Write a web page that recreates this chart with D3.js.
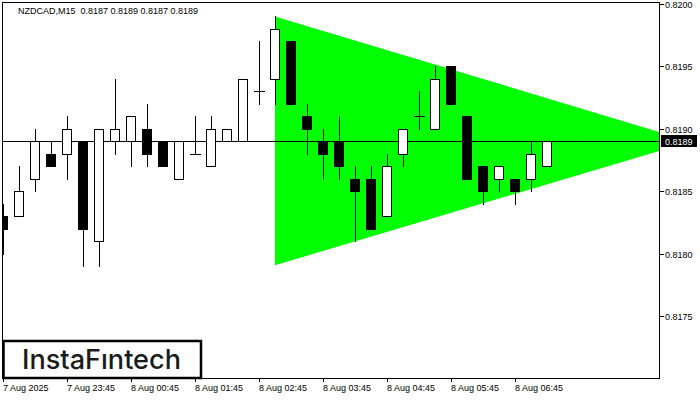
<!DOCTYPE html>
<html><head><meta charset="utf-8">
<script src="https://cdn.jsdelivr.net/npm/d3@7"></script>
<style>html,body{margin:0;padding:0;background:#fff}svg{display:block}</style>
</head><body>
<svg id="c" width="700" height="400"></svg>
<script>
const title = "NZDCAD,M15  0.8187 0.8189 0.8187 0.8189";
const opens  = [0.8183,0.8183,0.8186,0.8188,0.8188,0.8189,0.8181,0.8189,0.8189,0.8190,0.8189,0.8186,0.8188,0.8187,0.8189,0.8189,0.8193,0.8194,0.8197,0.8191,0.8189,0.8189,0.8186,0.8186,0.8183,0.8188,0.8191,0.8190,0.8195,0.8191,0.8187,0.8186,0.8186,0.8186,0.8187];
const highs  = [0.8184,0.8187,0.8190,0.8189,0.8191,0.8189,0.8190,0.8194,0.8191,0.8192,0.8189,0.8189,0.8191,0.8191,0.8190,0.8194,0.8197,0.8199,0.8197,0.8192,0.8190,0.8191,0.8187,0.8187,0.8188,0.8190,0.8193,0.8195,0.8195,0.8191,0.8187,0.8187,0.8186,0.8189,0.8189];
const lows   = [0.8180,0.8183,0.8185,0.8187,0.8186,0.8179,0.8179,0.8188,0.8187,0.8187,0.8187,0.8186,0.8188,0.8187,0.8189,0.8189,0.8192,0.8192,0.8192,0.8188,0.8186,0.8186,0.8181,0.8182,0.8183,0.8187,0.8190,0.8190,0.8192,0.8186,0.8184,0.8185,0.8184,0.8185,0.8187];
const closes = [0.8182,0.8185,0.8189,0.8187,0.8190,0.8182,0.8190,0.8190,0.8191,0.8188,0.8187,0.8189,0.8188,0.8190,0.8190,0.8194,0.8193,0.8198,0.8192,0.8190,0.8188,0.8187,0.8185,0.8182,0.8187,0.8190,0.8191,0.8194,0.8192,0.8186,0.8185,0.8187,0.8185,0.8188,0.8189];
const timeTickIdx = [0,4,8,12,16,20,24,28,32];
const timeTickLabels = ["7 Aug 2025","7 Aug 23:45","8 Aug 00:45","8 Aug 01:45","8 Aug 02:45","8 Aug 03:45","8 Aug 04:45","8 Aug 05:45","8 Aug 06:45"];
const priceTicks = [0.8175,0.8180,0.8185,0.8190,0.8195,0.8200];
const bidPrice = 0.8189;
const triangleIdx = [17,43,17];
const trianglePrice = [0.8199,0.8189,0.81791];
const logoText = "InstaF\u0131ntech";

const svg = d3.select("#c");
const L=2, R=660, T=2, B=378;
const x = d3.scaleLinear().domain([0,41]).range([3,659]);
const y = d3.scaleLinear().domain([0.8170,0.8200]).range([379,4]);
const font = "'Liberation Sans', Arial, sans-serif";

svg.append("defs").append("clipPath").attr("id","plot")
  .append("rect").attr("x",L+1).attr("y",T+1).attr("width",R-L-1).attr("height",B-T-1);

const g = svg.append("g").attr("clip-path","url(#plot)");

// triangle
g.append("polygon")
  .attr("points", triangleIdx.map((d,i)=>[x(d),y(trianglePrice[i])].join(",")).join(" "))
  .attr("fill","#00ff00").attr("stroke","none");

// bid line
g.append("line").attr("x1",L).attr("x2",R)
  .attr("y1",Math.round(y(bidPrice))+0.5).attr("y2",Math.round(y(bidPrice))+0.5)
  .attr("stroke","#000").attr("stroke-width",1);

// candles
const idx = d3.range(opens.length);
const cg = g.selectAll("g.candle").data(idx).join("g").attr("class","candle");
cg.each(function(i){
  const sel = d3.select(this);
  const xc = Math.round(x(i));
  const yo = Math.round(y(opens[i])), yc = Math.round(y(closes[i]));
  const yh = Math.round(y(highs[i])), yl = Math.round(y(lows[i]));
  sel.append("line").attr("x1",xc+0.5).attr("x2",xc+0.5)
    .attr("y1",yh).attr("y2",yl+1).attr("stroke","#000").attr("stroke-width",1);
  if (yo === yc) {
    sel.append("line").attr("x1",xc-5).attr("x2",xc+6)
      .attr("y1",yo+0.5).attr("y2",yo+0.5).attr("stroke","#000").attr("stroke-width",1);
  } else {
    const top = Math.min(yo,yc), bot = Math.max(yo,yc);
    const bull = closes[i] > opens[i];
    sel.append("rect").attr("x",xc-4.5).attr("y",top+0.5)
      .attr("width",9).attr("height",bot-top)
      .attr("fill", bull ? "#fff" : "#000").attr("stroke","#000").attr("stroke-width",1);
  }
});

// frame
svg.append("rect").attr("x",L+0.5).attr("y",T+0.5).attr("width",R-L-1).attr("height",B-T)
  .attr("fill","none").attr("stroke","#000").attr("stroke-width",1);

// y axis
priceTicks.forEach(p=>{
  const yy = Math.round(y(p));
  svg.append("line").attr("x1",R).attr("x2",R+4).attr("y1",yy+0.5).attr("y2",yy+0.5)
    .attr("stroke","#000");
  svg.append("text").attr("x",665).attr("y",yy+3.5).attr("font-family",font)
    .attr("font-size","9px").attr("fill","#000").text(p.toFixed(4));
});
// bid label
const by = Math.round(y(bidPrice));
svg.append("rect").attr("x",661).attr("y",by-6).attr("width",36).attr("height",12).attr("fill","#000");
svg.append("text").attr("x",665).attr("y",by+3.5).attr("font-family",font)
  .attr("font-size","9px").attr("fill","#fff").text(bidPrice.toFixed(4));

// x axis
timeTickIdx.forEach((t,k)=>{
  const xx = Math.round(x(t));
  svg.append("line").attr("x1",xx+0.5).attr("x2",xx+0.5).attr("y1",B).attr("y2",B+4)
    .attr("stroke","#000");
  svg.append("text").attr("x",xx).attr("y",391).attr("font-family",font)
    .attr("font-size","9px").attr("fill","#000").text(timeTickLabels[k]);
});

// title
svg.append("text").attr("x",18).attr("y",14).attr("font-family",font)
  .attr("font-size","9px").attr("fill","#000").attr("xml:space","preserve")
  .style("white-space","pre").text(title);

// logo
svg.append("rect").attr("x",3.5).attr("y",341).attr("width",197.5).attr("height",37)
  .attr("fill","#fff").attr("stroke","#000").attr("stroke-width",2.5);
svg.append("text").attr("x",22).attr("y",368.5).attr("font-family","Inter, 'Open Sans', sans-serif")
  .attr("font-size","27px").attr("font-weight",500).attr("fill","#1b1b1b")
  .attr("textLength",159).attr("lengthAdjust","spacingAndGlyphs").text(logoText);
</script>
</body></html>
